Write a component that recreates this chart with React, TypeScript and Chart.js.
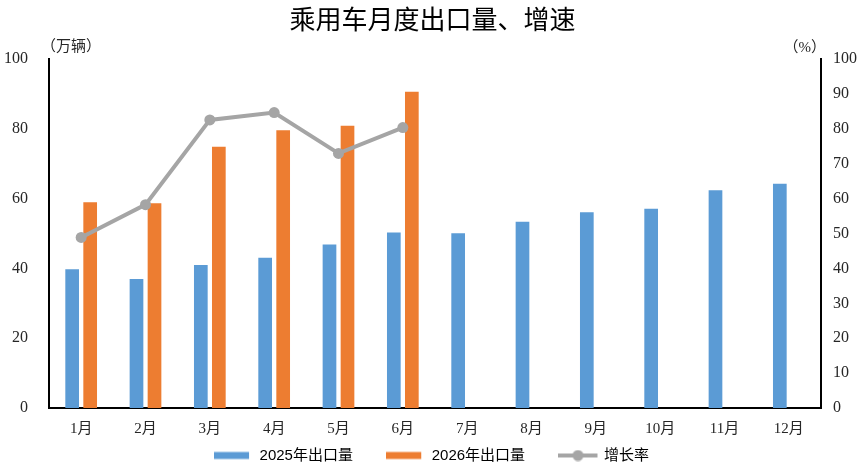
import React, { useEffect, useRef } from 'react';
import { Chart, registerables } from 'chart.js';

Chart.register(...registerables);

const months = ['1月', '2月', '3月', '4月', '5月', '6月', '7月', '8月', '9月', '10月', '11月', '12月'];
const exports2025 = [39.8, 37.0, 41.0, 43.1, 46.9, 50.3, 50.1, 53.4, 56.1, 57.1, 62.4, 64.3];
const exports2026 = [59.0, 58.7, 74.9, 79.6, 80.9, 90.7, null, null, null, null, null, null];
const growthRate = [48.9, 58.3, 82.6, 84.7, 73.0, 80.4, null, null, null, null, null, null];

const seriesNames = ['2025年出口量', '2026年出口量', '增长率'];
const titleText = '乘用车月度出口量、增速';
const leftUnit = '（万辆）';
const rightUnit = '（%）';

const BLUE = '#5B9BD5';
const ORANGE = '#ED7D31';
const GRAY = '#A5A5A5';
const TEXT = '#262626';
const SERIF = "'Liberation Serif', 'Noto Sans CJK SC', serif";
const SANS = "'Liberation Sans', 'Noto Sans CJK SC', sans-serif";

function legendImage(kind: 'bar' | 'line', color: string): HTMLCanvasElement {
  const c = document.createElement('canvas');
  c.width = 40;
  c.height = 12;
  const ctx = c.getContext('2d')!;
  if (kind === 'bar') {
    ctx.fillStyle = color;
    ctx.fillRect(0, 2.5, 35, 7);
  } else {
    ctx.strokeStyle = color;
    ctx.lineWidth = 4;
    ctx.beginPath();
    ctx.moveTo(0, 6);
    ctx.lineTo(39, 6);
    ctx.stroke();
    ctx.fillStyle = color;
    ctx.beginPath();
    ctx.arc(19.5, 6, 5.5, 0, Math.PI * 2);
    ctx.fill();
  }
  return c;
}

const unitPlugin = {
  id: 'unitLabels',
  afterDraw(chart: any) {
    const { ctx, chartArea } = chart;
    ctx.save();
    ctx.fillStyle = TEXT;
    ctx.font = `15px ${SERIF}`;
    ctx.textBaseline = 'middle';
    ctx.textAlign = 'left';
    ctx.fillText(leftUnit, chartArea.left - 8, chartArea.top - 12);
    ctx.textAlign = 'right';
    ctx.fillText(rightUnit, chartArea.right + 5, chartArea.top - 11);
    ctx.restore();
  },
};

export default function App() {
  const canvasRef = useRef<HTMLCanvasElement | null>(null);

  useEffect(() => {
    document.body.style.margin = '0';
    const canvas = canvasRef.current;
    if (!canvas) return;
    const images = [legendImage('bar', BLUE), legendImage('bar', ORANGE), legendImage('line', GRAY)];
    const colors = [BLUE, ORANGE, GRAY];
    const gapText = ['        ', '        ', ''];

    const chart = new Chart(canvas, {
      type: 'bar',
      data: {
        labels: months,
        datasets: [
          {
            type: 'bar',
            label: seriesNames[0],
            data: exports2025,
            backgroundColor: BLUE,
            yAxisID: 'y',
            order: 1,
            categoryPercentage: 0.56,
            barPercentage: 0.76,
          },
          {
            type: 'bar',
            label: seriesNames[1],
            data: exports2026,
            backgroundColor: ORANGE,
            yAxisID: 'y',
            order: 1,
            categoryPercentage: 0.56,
            barPercentage: 0.76,
          },
          {
            type: 'line',
            label: seriesNames[2],
            data: growthRate,
            borderColor: GRAY,
            backgroundColor: GRAY,
            borderWidth: 4,
            pointRadius: 5.5,
            pointBackgroundColor: GRAY,
            pointBorderColor: GRAY,
            pointBorderWidth: 0,
            tension: 0,
            spanGaps: false,
            yAxisID: 'y1',
            order: 0,
          } as any,
        ],
      },
      options: {
        responsive: false,
        animation: false,
        layout: { padding: { left: 0, right: 0, top: 0, bottom: -4 } },
        plugins: {
          title: {
            display: true,
            text: titleText,
            color: '#000',
            font: { family: SANS, size: 26, weight: 'normal' },
            padding: { top: 6, bottom: 22 },
          },
          legend: {
            display: true,
            position: 'bottom',
            labels: {
              usePointStyle: true,
              pointStyleWidth: 36,
              padding: 2,
              color: TEXT,
              font: { family: SANS, size: 15 },
              generateLabels: () =>
                seriesNames.map((name, i) => ({
                  text: name + gapText[i],
                  pointStyle: images[i],
                  fillStyle: colors[i],
                  strokeStyle: colors[i],
                  lineWidth: 0,
                  hidden: false,
                  datasetIndex: i,
                })) as any,
            },
          },
          tooltip: { enabled: false },
        },
        scales: {
          x: {
            grid: { display: false, drawTicks: false },
            border: { display: true, color: '#000', width: 2 },
            ticks: { color: TEXT, font: { family: SERIF, size: 15 }, padding: 12 },
            afterFit: (scale: any) => {
              scale.height = 38;
            },
          },
          y: {
            position: 'left',
            min: 0,
            max: 100,
            ticks: { stepSize: 20, color: TEXT, font: { family: SERIF, size: 16 }, padding: 21 },
            grid: { display: false, drawTicks: false },
            border: { display: true, color: '#000', width: 2 },
            afterFit: (scale: any) => {
              scale.width = 49;
            },
          },
          y1: {
            position: 'right',
            min: 0,
            max: 100,
            ticks: { stepSize: 10, color: TEXT, font: { family: SERIF, size: 16 }, padding: 12 },
            grid: { display: false, drawTicks: false },
            border: { display: true, color: '#000', width: 2 },
            afterFit: (scale: any) => {
              scale.width = 44;
            },
          },
        },
      },
      plugins: [unitPlugin],
    });

    return () => chart.destroy();
  }, []);

  return (
    <div style={{ position: 'absolute', left: 0, top: 0, width: 865, height: 469, background: '#fff' }}>
      <canvas ref={canvasRef} width={865} height={469} />
    </div>
  );
}
